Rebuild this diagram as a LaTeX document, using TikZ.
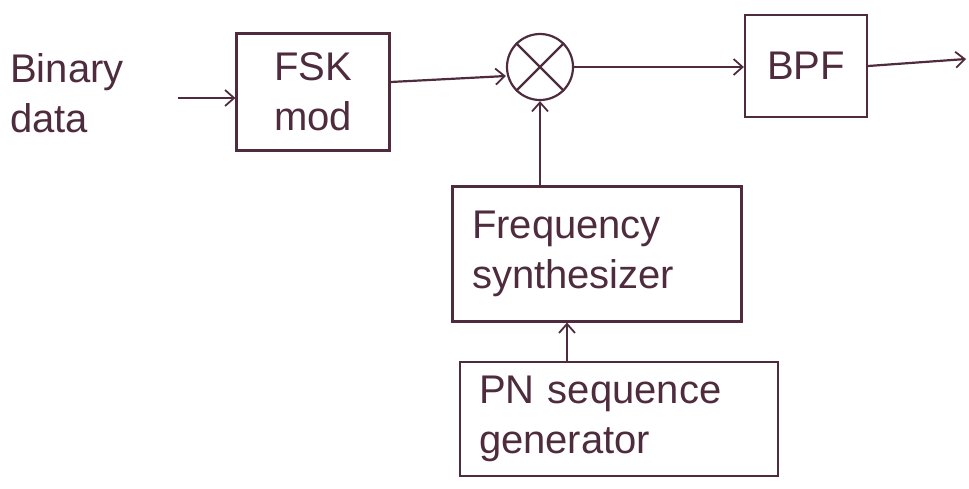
\documentclass[tikz,border=0pt]{standalone}
\usepackage{fontspec}
\setmainfont{Liberation Sans}
\usetikzlibrary{arrows.meta,calc}
\definecolor{ink}{RGB}{78,44,62}
\tikzset{
  ink line/.style={draw=ink, line width=2.2pt},
  arr/.style={ink line, -{Straight Barb[length=9pt,width=16pt,line width=1.8pt]}},
  block/.style={ink line, rectangle, inner sep=0pt, text=ink,
    font=\fontsize{40}{50}\selectfont},
  lefttext/.style={text=ink, align=left, inner sep=0pt,
    font=\fontsize{40}{50}\selectfont}
}
\begin{document}
\begin{tikzpicture}[x=1pt,y=-1pt]
  \useasboundingbox (0,0) rectangle (969,488);

  % input label
  \node[lefttext, anchor=west] (in) at (10,93) {Binary\\data};
  \coordinate (inend) at (178,98);

  % modulator
  \node[block, minimum width=153pt, minimum height=117pt, align=center]
    (fsk) at (313,92) {FSK\\mod};

  % multiplier
  \node[ink line, circle, minimum size=66pt, inner sep=0pt] (mix) at (540,67) {};
  \draw[ink line] (mix.north east) -- (mix.south west);
  \draw[ink line] (mix.north west) -- (mix.south east);

  % band-pass filter
  \node[block, minimum width=122pt, minimum height=102pt] (bpf) at (806,66) {BPF};
  \coordinate (out) at (966,59);

  % frequency synthesizer
  \node[block, minimum width=289pt, minimum height=135pt, align=left,
        text width=250pt] (fs) at (597,254) {Frequency\\synthesizer};

  % PN generator
  \node[block, minimum width=318pt, minimum height=114pt, align=left,
        text width=280pt] (pn) at (619,419) {PN sequence\\generator};

  % signal flow
  \draw[arr] (inend) -- (inend -| fsk.west);
  \draw[arr] (fsk.east |- 0,82) -- (mix.west |- 0,76);
  \draw[arr] (mix.east) -- (bpf.west |- mix.east);
  \draw[arr] (bpf.east) -- (out);
  \draw[arr] (fs.north -| mix.south) -- (mix.south);
  \draw[arr] ([xshift=-52pt]pn.north) -- ([xshift=-52pt]pn.north |- fs.south);
\end{tikzpicture}
\end{document}
